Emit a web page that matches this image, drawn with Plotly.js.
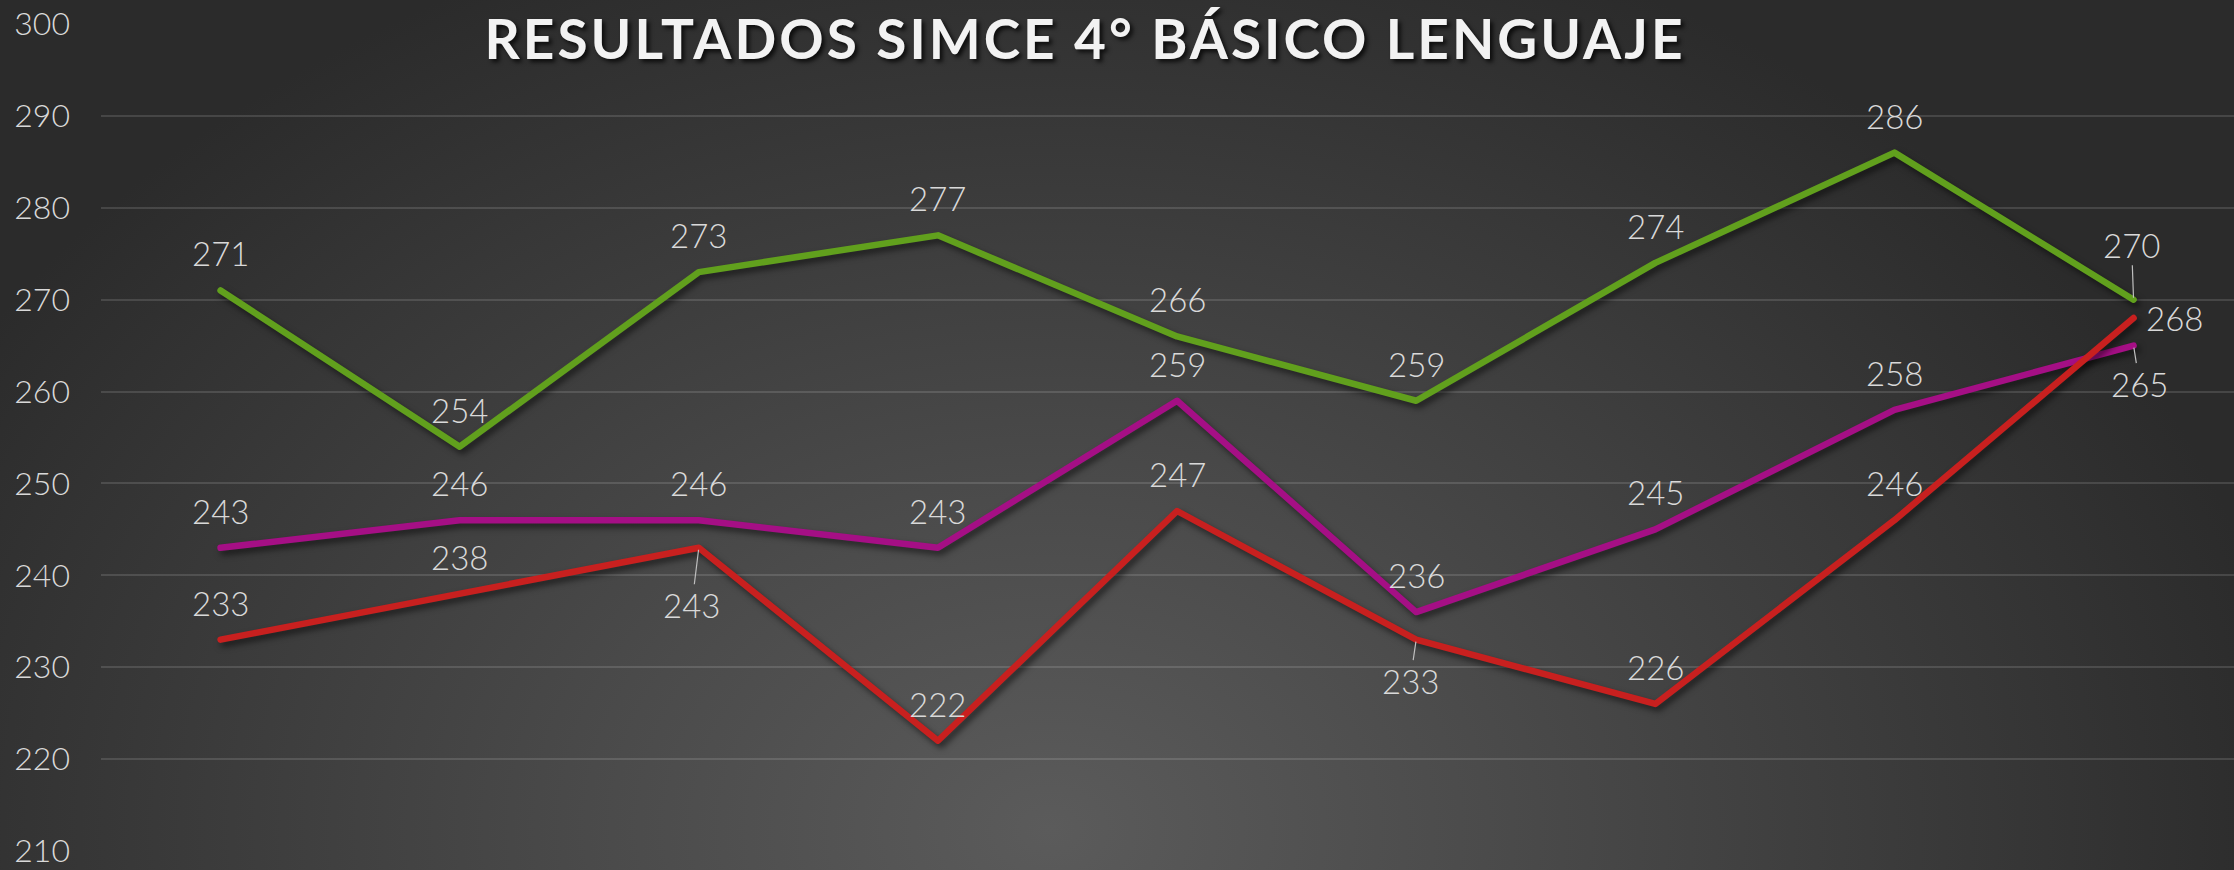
<!DOCTYPE html>
<html>
<head>
<meta charset="utf-8">
<script src="https://cdn.plot.ly/plotly-3.0.1.min.js"></script>
<style>
  html, body { margin:0; padding:0; width:2234px; height:870px; overflow:hidden; }
  body { background: radial-gradient(ellipse 1250px 950px at 1050px 830px, #5b5b5b 0%, #4b4b4b 35%, #2b2b2b 100%); }
  #chart { width:2234px; height:870px; }
  .scatterlayer .js-line { stroke-linejoin: round; stroke-linecap: round; filter: drop-shadow(3px 4px 3px rgba(0,0,0,0.55)); }
  .gtitle { letter-spacing: 3px; }
</style>
</head>
<body>
<div id="chart"></div>
<script>
// ---- data ----
const seriesGreen   = [271, 254, 273, 277, 266, 259, 274, 286, 270];
const seriesMagenta = [243, 246, 246, 243, 259, 236, 245, 258, 265];
const seriesRed     = [233, 238, 243, 222, 247, 233, 226, 246, 268];
const yTicks = [210, 220, 230, 240, 250, 260, 270, 280, 290, 300];
const chartTitle = 'RESULTADOS SIMCE 4° BÁSICO LENGUAJE';

// ---- styles ----
const colors = { green: '#61a01d', magenta: '#a50f85', red: '#c8201f' };
const labelColor = '#d9d9d9';
const labelFont = { family: 'Lato, "Open Sans", sans-serif', size: 33, color: labelColor, weight: 300 };
// label placement overrides: key "series:index"
const defaultPlacement = { ax: 0, ay: -37, arrow: false };
const placementOverrides = {
  'green:8':   { ax: -2, ay: -55, arrow: true },
  'magenta:8': { ax: 6,  ay: 38,  arrow: true },
  'red:2':     { ax: -7, ay: 57,  arrow: true },
  'red:5':     { ax: -6, ay: 41,  arrow: true },
  'red:8':     { ax: 41, ay: 0,   arrow: false }
};

const seriesList = [
  { key: 'green',   values: seriesGreen },
  { key: 'magenta', values: seriesMagenta },
  { key: 'red',     values: seriesRed }
];

const traces = seriesList.map(s => ({
  type: 'scatter',
  mode: 'lines',
  x: s.values.map((_, i) => i),
  y: s.values,
  line: { color: colors[s.key], width: 6.5 },
  hoverinfo: 'skip',
  showlegend: false
}));

const annotations = [];
seriesList.forEach(s => {
  s.values.forEach((v, i) => {
    const p = placementOverrides[s.key + ':' + i] || defaultPlacement;
    if (p.arrow) {
      annotations.push({
        x: i, y: v, xref: 'x', yref: 'y',
        text: String(v), font: labelFont,
        showarrow: true, arrowhead: 0, arrowwidth: 1.2, arrowcolor: '#bfbfbf',
        ax: p.ax, ay: p.ay, standoff: 2, borderpad: 0
      });
    } else {
      annotations.push({
        x: i, y: v, xref: 'x', yref: 'y',
        text: String(v), font: labelFont,
        showarrow: false, xshift: p.ax, yshift: -p.ay
      });
    }
  });
});

const layout = {
  width: 2234, height: 870,
  paper_bgcolor: 'rgba(0,0,0,0)',
  plot_bgcolor: 'rgba(0,0,0,0)',
  margin: { l: 101, r: 0, t: 24, b: 19, pad: 0 },
  title: {
    text: chartTitle,
    x: 1085 / 2234, xref: 'container', xanchor: 'center',
    y: 1 - 40 / 870, yref: 'container', yanchor: 'middle',
    font: { family: 'Lato, "DejaVu Sans", sans-serif', size: 55, color: '#f2f2f2', weight: 700,
            shadow: '3px 3px 4px rgba(0,0,0,0.75)' }
  },
  xaxis: {
    range: [-0.5, 8.42], showgrid: false, zeroline: false, showticklabels: false,
    showline: false, ticks: '', fixedrange: true
  },
  yaxis: {
    range: [210, 300], tickvals: yTicks, ticktext: yTicks.map(String),
    showgrid: true, gridcolor: 'rgba(255,255,255,0.13)', gridwidth: 2,
    zeroline: false, showline: false, ticks: '',
    ticklabelstandoff: 30,
    tickfont: { family: 'Lato, "Open Sans", sans-serif', size: 32, color: labelColor, weight: 300 },
    fixedrange: true
  },
  annotations: annotations
};

Plotly.newPlot('chart', traces, layout, { displayModeBar: false, staticPlot: true });
</script>
</body>
</html>
